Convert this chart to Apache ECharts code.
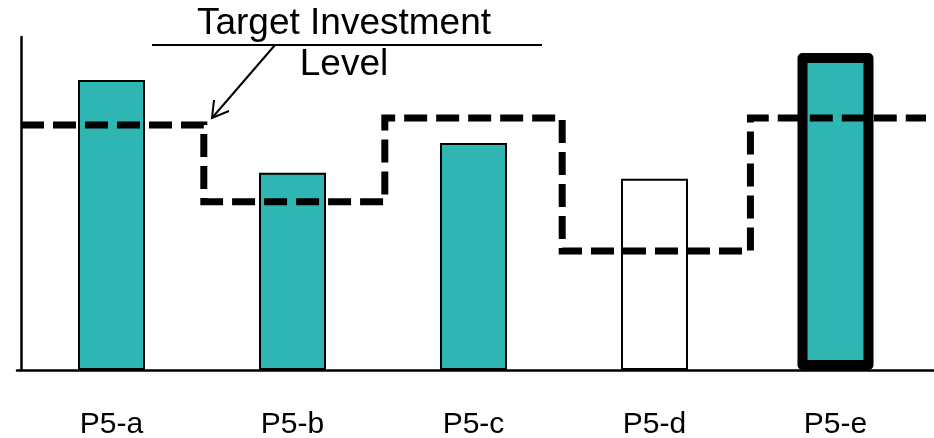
<!DOCTYPE html>
<html>
<head>
<meta charset="utf-8">
<script src="https://cdn.jsdelivr.net/npm/echarts@6/dist/echarts.min.js"></script>
<style>
  html, body { margin: 0; padding: 0; background: #ffffff; }
  #chart { width: 934px; height: 438px; }
</style>
</head>
<body>
<div id="chart"></div>
<script>
// Projects and their investment
const categories = ['P5-a', 'P5-b', 'P5-c', 'P5-d', 'P5-e'];
const investment = [87.1, 59.2, 68.2, 57.4, 95.2];
// Target investment level per project (drawn as a stepped dashed line)
const targetLevel = [73.6, 50.5, 75.7, 35.7, 75.7];
// Where the target level changes, in category units along the axis
const stepAt = [1.01, 2.01, 2.99, 4.03];
// Project called out with a heavy outline
const highlighted = 'P5-e';
// Project shown without fill
const unfunded = 'P5-d';

const TEAL = '#2fb5b2';
const FONT = '"Liberation Sans", Arial, sans-serif';

// Corner points of the stepped target line
const stepPoints = [];
const edges = [0].concat(stepAt, [categories.length]);
for (let i = 0; i < targetLevel.length; i++) {
  stepPoints.push([edges[i], targetLevel[i]]);
  stepPoints.push([edges[i + 1], targetLevel[i]]);
}

const normalBars = investment.map((v, i) => {
  if (categories[i] === highlighted) return '-';
  return {
    value: v,
    itemStyle: { color: categories[i] === unfunded ? '#ffffff' : TEAL }
  };
});
const heavyBars = investment.map((v, i) => (categories[i] === highlighted ? v : '-'));

const chart = echarts.init(document.getElementById('chart'), null, { renderer: 'canvas' });

chart.setOption({
  animation: false,
  backgroundColor: '#ffffff',
  grid: [
    { left: 21, right: 8, top: 37, bottom: 68, outerBoundsMode: 'none', containLabel: false },
    { left: 17, right: 0, top: 37, bottom: 68, outerBoundsMode: 'none', containLabel: false }
  ],
  xAxis: [
    {
      type: 'category',
      gridIndex: 0,
      data: categories,
      axisLine: { show: false },
      axisTick: { show: false },
      axisLabel: { margin: 40, fontSize: 30, color: '#000000', fontFamily: FONT }
    },
    { type: 'value', gridIndex: 0, min: 0, max: categories.length, show: false },
    {
      type: 'value',
      gridIndex: 1,
      min: 0,
      max: 1,
      axisLine: { show: true, onZero: false, lineStyle: { color: '#000000', width: 2.5 } },
      axisTick: { show: false },
      axisLabel: { show: false },
      splitLine: { show: false }
    },
    // second band axis so the outlined bar gets its own width
    { type: 'category', gridIndex: 0, data: categories, show: false }
  ],
  yAxis: [
    {
      type: 'value',
      gridIndex: 0,
      min: 0,
      max: 100,
      axisLine: { show: true, onZero: false, lineStyle: { color: '#000000', width: 2.5 } },
      axisTick: { show: false },
      axisLabel: { show: false },
      splitLine: { show: false }
    },
    { type: 'value', gridIndex: 1, min: 0, max: 1, show: false }
  ],
  series: [
    {
      type: 'bar',
      xAxisIndex: 0,
      yAxisIndex: 0,
      barWidth: 67,
      itemStyle: { borderColor: '#000000', borderWidth: 2 },
      data: normalBars,
      z: 2
    },
    {
      type: 'bar',
      xAxisIndex: 3,
      yAxisIndex: 0,
      barWidth: 76,
      itemStyle: { color: TEAL, borderColor: '#000000', borderWidth: 10, borderJoin: 'round' },
      data: heavyBars,
      z: 2
    },
    {
      type: 'line',
      xAxisIndex: 1,
      yAxisIndex: 0,
      data: stepPoints,
      symbol: 'none',
      lineStyle: { color: '#000000', width: 7, type: [23, 9], cap: 'butt', join: 'miter' },
      z: 3
    }
  ],
  graphic: [
    {
      type: 'text',
      x: 344,
      y: 24,
      style: {
        text: 'Target Investment',
        fontSize: 37,
        fontFamily: FONT,
        fill: '#000000',
        align: 'center',
        verticalAlign: 'middle'
      }
    },
    {
      type: 'text',
      x: 344,
      y: 65,
      style: {
        text: 'Level',
        fontSize: 37,
        fontFamily: FONT,
        fill: '#000000',
        align: 'center',
        verticalAlign: 'middle'
      }
    },
    {
      type: 'line',
      shape: { x1: 152, y1: 45, x2: 542, y2: 45 },
      style: { stroke: '#000000', lineWidth: 2 }
    },
    {
      type: 'line',
      shape: { x1: 275, y1: 45, x2: 212, y2: 118 },
      style: { stroke: '#000000', lineWidth: 2 }
    },
    {
      type: 'polyline',
      shape: { points: [[214, 100], [212, 118], [229, 111]] },
      style: { stroke: '#000000', lineWidth: 2, fill: null }
    }
  ]
});
</script>
</body>
</html>
